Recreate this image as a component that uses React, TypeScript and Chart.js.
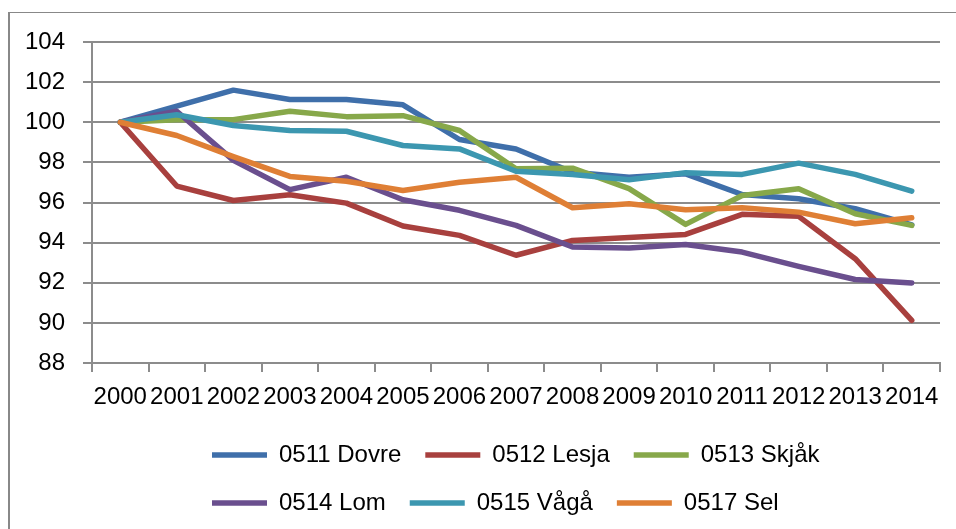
import React, { useEffect, useRef } from "react";
import { Chart, registerables } from "chart.js";

Chart.register(...registerables);

// Categories (years)
const years = [
  "2000", "2001", "2002", "2003", "2004", "2005", "2006", "2007",
  "2008", "2009", "2010", "2011", "2012", "2013", "2014",
];

// Y-axis range / ticks
const yMin = 88;
const yMax = 104;
const yStep = 2;

// Series values (index, 2000 = 100)
const dovre = [100, 100.8, 101.6, 101.13, 101.13, 100.87, 99.14, 98.67, 97.51, 97.26, 97.43, 96.4, 96.19, 95.69, 94.88];
const lesja = [100, 96.82, 96.1, 96.39, 95.97, 94.83, 94.36, 93.37, 94.11, 94.25, 94.41, 95.41, 95.31, 93.2, 90.13];
const skjak = [100, 100.13, 100.13, 100.55, 100.28, 100.33, 99.59, 97.68, 97.71, 96.69, 94.91, 96.35, 96.69, 95.44, 94.86];
const lom = [100, 100.55, 98.1, 96.64, 97.26, 96.14, 95.61, 94.86, 93.78, 93.73, 93.91, 93.53, 92.82, 92.16, 91.99];
const vaga = [100, 100.37, 99.84, 99.59, 99.55, 98.84, 98.67, 97.56, 97.4, 97.13, 97.48, 97.4, 97.96, 97.4, 96.57];
const sel = [100, 99.34, 98.29, 97.3, 97.06, 96.6, 97.01, 97.26, 95.74, 95.94, 95.64, 95.74, 95.52, 94.94, 95.24];

// Series names
const seriesNames = ["0511 Dovre", "0512 Lesja", "0513 Skjåk", "0514 Lom", "0515 Vågå", "0517 Sel"];
const seriesValues = [dovre, lesja, skjak, lom, vaga, sel];

// Styles
const seriesColors = ["#3F6FAA", "#A8403E", "#87A84A", "#6A4F8E", "#3C97B0", "#DF7F35"];
const FONT_FAMILY = "'Liberation Sans', Arial, sans-serif";
const GRID_COLOR = "#8c8c8c";

// Shifts the legend block so both rows start at the same left edge
const legendStart = {
  id: "legendStart",
  afterLayout(chart: any) {
    const lg = chart.legend;
    if (lg) lg.left = 188;
  },
};

export default function App() {
  const canvasRef = useRef<HTMLCanvasElement | null>(null);

  useEffect(() => {
    const canvas = canvasRef.current;
    if (!canvas) return;
    const font = { family: FONT_FAMILY, size: 24 };
    const n = seriesNames.length;
    const chart = new Chart(canvas, {
      type: "line",
      data: {
        labels: years,
        datasets: seriesNames.map((name, i) => ({
          label: name,
          data: seriesValues[i],
          borderColor: seriesColors[i],
          backgroundColor: seriesColors[i],
          borderWidth: 5.5,
          pointRadius: 0,
          pointHoverRadius: 0,
          pointStyle: "line",
          tension: 0,
          borderCapStyle: "round",
          borderJoinStyle: "round",
          order: n - i,
        })),
      },
      options: {
        responsive: false,
        animation: false,
        layout: { padding: { left: 0, right: 16, top: 42, bottom: 4 } },
        plugins: {
          tooltip: { enabled: false },
          legend: {
            position: "bottom",
            align: "start",
            fullSize: false,
            labels: {
              usePointStyle: true,
              pointStyle: "line",
              pointStyleWidth: 55,
              padding: 24,
              color: "#000",
              font,
              sort: (a: any, b: any) => a.datasetIndex - b.datasetIndex,
            },
          },
        },
        scales: {
          x: {
            type: "category",
            offset: true,
            grid: {
              offset: true,
              drawOnChartArea: false,
              drawTicks: true,
              tickLength: 9,
              color: GRID_COLOR,
              lineWidth: 2,
            },
            border: { color: GRID_COLOR, width: 2 },
            ticks: {
              maxRotation: 0,
              minRotation: 0,
              autoSkip: false,
              padding: 11,
              color: "#000",
              font,
            },
            afterFit: (s: any) => {
              s.height = 56;
            },
          },
          y: {
            min: yMin,
            max: yMax,
            ticks: { stepSize: yStep, padding: 18, color: "#000", font },
            grid: { color: GRID_COLOR, lineWidth: 2, tickLength: 9 },
            border: { color: GRID_COLOR, width: 2 },
            afterFit: (s: any) => {
              s.width = 92;
            },
          },
        },
      },
      plugins: [legendStart],
    });
    return () => chart.destroy();
  }, []);

  return (
    <div
      style={{
        position: "fixed",
        left: 0,
        top: 0,
        width: 956,
        height: 529,
        overflow: "hidden",
        background: "#fff",
      }}
    >
      <div
        style={{
          position: "absolute",
          left: 8,
          top: 12,
          width: 960,
          height: 540,
          borderTop: "1px solid #888",
          borderLeft: "2px solid #888",
          boxSizing: "border-box",
        }}
      />
      <canvas
        ref={canvasRef}
        width={956}
        height={529}
        style={{ position: "absolute", left: 0, top: 0, width: 956, height: 529 }}
      />
    </div>
  );
}
